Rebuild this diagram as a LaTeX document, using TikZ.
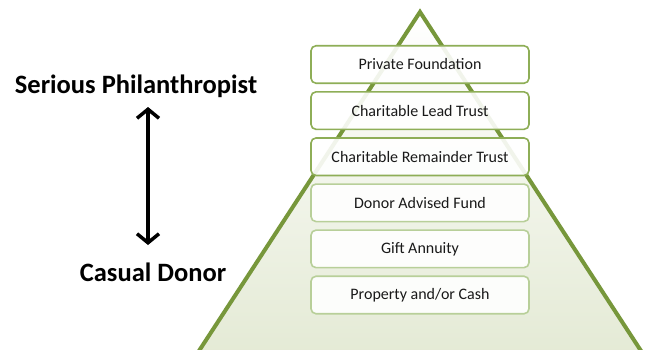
\documentclass[tikz,border=0pt]{standalone}
\usepackage{fontspec}
\setmainfont{Carlito}
\usetikzlibrary{arrows.meta,matrix}
\tikzset{>={Straight Barb[length=9pt,width=22pt]}}
\definecolor{pyrline}{HTML}{77973B}
\definecolor{pyrfill}{HTML}{E4EAD5}
\definecolor{darkrim}{HTML}{8EAE57}
\definecolor{lightrim}{HTML}{B8CF99}

\begin{document}
\begin{tikzpicture}[x=1pt,y=1pt]

\tikzstyle{side}=[font=\fontsize{26.5}{30}\selectfont\bfseries,inner sep=0pt]
\tikzstyle{topbox}=[draw=darkrim]
\tikzstyle{lowbox}=[draw=lightrim]

 \useasboundingbox (0,0) rectangle (645,349);
 \fill[white] (0,0) rectangle (645,349);

 % pyramid
 \begin{scope}
   \clip (0,0) rectangle (645,349);
   \shade[top color=white,bottom color=pyrfill]
         (420,337) -- (195,-8) -- (645,-8) -- cycle;
   \draw[pyrline,line width=4pt,line join=miter]
         (195,-8) -- (420,337) -- (645,-8);
 \end{scope}

 \matrix (m) at (420,169.25)
 [matrix of nodes,
  row sep=7pt,
  nodes={line width=1.6pt,rounded corners=5pt,
         fill=white,fill opacity=0.9,text opacity=1,
         minimum width=218pt,minimum height=37.5pt,
         outer sep=0pt,text=black!90,
         font=\fontsize{16}{18}\selectfont}]
 {
    |[topbox]| Private Foundation \\
    |[topbox]| Charitable Lead Trust \\
    |[topbox]| Charitable Remainder Trust \\
    |[lowbox]| Donor Advised Fund \\
    |[lowbox]| Gift Annuity \\
    |[lowbox]| Property and/or Cash \\
 };

 \node[side] (serious) at (136,263) {Serious Philanthropist};
 \node[side] (casual) at (153,77) {Casual Donor};

 \coordinate (up) at (148,242);
 \coordinate (down) at (148,104);
 \draw[<->,line width=3.5pt] (up) -- (down);

\end{tikzpicture}
\end{document}
